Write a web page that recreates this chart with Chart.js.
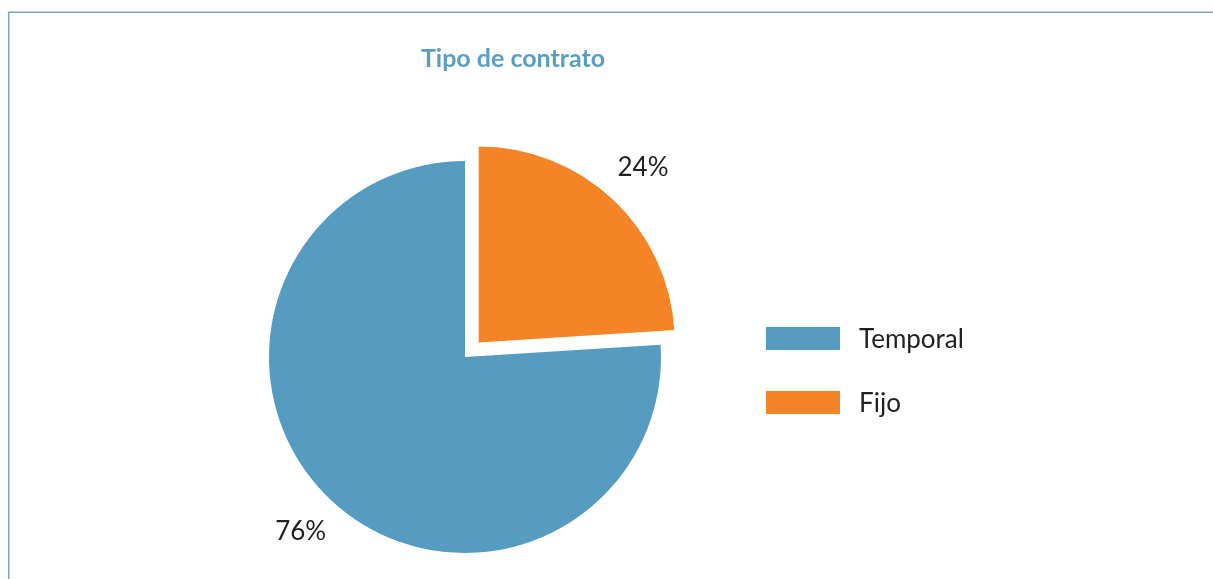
<!DOCTYPE html>
<html>
<head>
<meta charset="utf-8">
<script src="https://cdn.jsdelivr.net/npm/chart.js@4"></script>
<style>
  html, body { margin: 0; padding: 0; background: #fff; }
  #wrap { width: 1213px; height: 579px; }
</style>
</head>
<body>
<div id="wrap"><canvas id="chartContainer" width="1213" height="579"></canvas></div>
<script>
// data
const categories = ['Temporal', 'Fijo'];
const shares = [76, 24];
const sliceColors = ['#559cc0', '#f58426'];
const titleText = 'Tipo de contrato';

const FONT = 'Lato, "Open Sans", sans-serif';
const EXPLODE = 20; // px the Fijo slice is pulled out

// frame, title, percent labels and legend
const decorations = {
  id: 'decorations',
  beforeDraw(chart) {
    const ctx = chart.ctx;
    ctx.save();
    ctx.strokeStyle = '#7ba6be';
    ctx.lineWidth = 1.5;
    ctx.beginPath();
    ctx.moveTo(8.75, 579);
    ctx.lineTo(8.75, 12.25);
    ctx.lineTo(1213, 12.25);
    ctx.stroke();
    ctx.fillStyle = '#5a9fc3';
    ctx.font = 'bold 25px ' + FONT;
    ctx.textAlign = 'center';
    ctx.textBaseline = 'alphabetic';
    ctx.fillText(titleText, 513, 67);
    ctx.restore();
  },
  afterDatasetsDraw(chart) {
    const ctx = chart.ctx;
    const meta = chart.getDatasetMeta(0);
    ctx.save();
    ctx.fillStyle = '#231f20';
    ctx.font = '26px ' + FONT;
    ctx.textAlign = 'center';
    ctx.textBaseline = 'middle';
    meta.data.forEach((arc, i) => {
      const mid = (arc.startAngle + arc.endAngle) / 2;
      const r = arc.outerRadius + 44 + (i === 1 ? EXPLODE : 0);
      ctx.fillText(shares[i] + '%', arc.x + Math.cos(mid) * r, arc.y + Math.sin(mid) * r);
    });
    // legend
    ctx.textAlign = 'left';
    ctx.textBaseline = 'alphabetic';
    categories.forEach((c, i) => {
      const y = 327 + i * 64;
      ctx.fillStyle = sliceColors[i];
      ctx.fillRect(766, y, 74, 23);
      ctx.fillStyle = '#231f20';
      ctx.fillText(c, 859, y + 21);
    });
    ctx.restore();
  }
};

new Chart(document.getElementById('chartContainer'), {
  type: 'pie',
  data: {
    labels: categories,
    datasets: [{
      data: shares,
      backgroundColor: sliceColors,
      borderWidth: 0,
      hoverOffset: 0,
      // Chart.js translates an arc by offset / 4
      offset: [0, EXPLODE * 4]
    }]
  },
  options: {
    responsive: false,
    animation: false,
    rotation: shares[1] * 3.6,
    radius: 196,
    layout: { padding: { left: 200, right: 483, top: 150, bottom: 15 } },
    plugins: {
      legend: { display: false },
      title: { display: false },
      tooltip: { enabled: false }
    }
  },
  plugins: [decorations]
});
</script>
</body>
</html>
